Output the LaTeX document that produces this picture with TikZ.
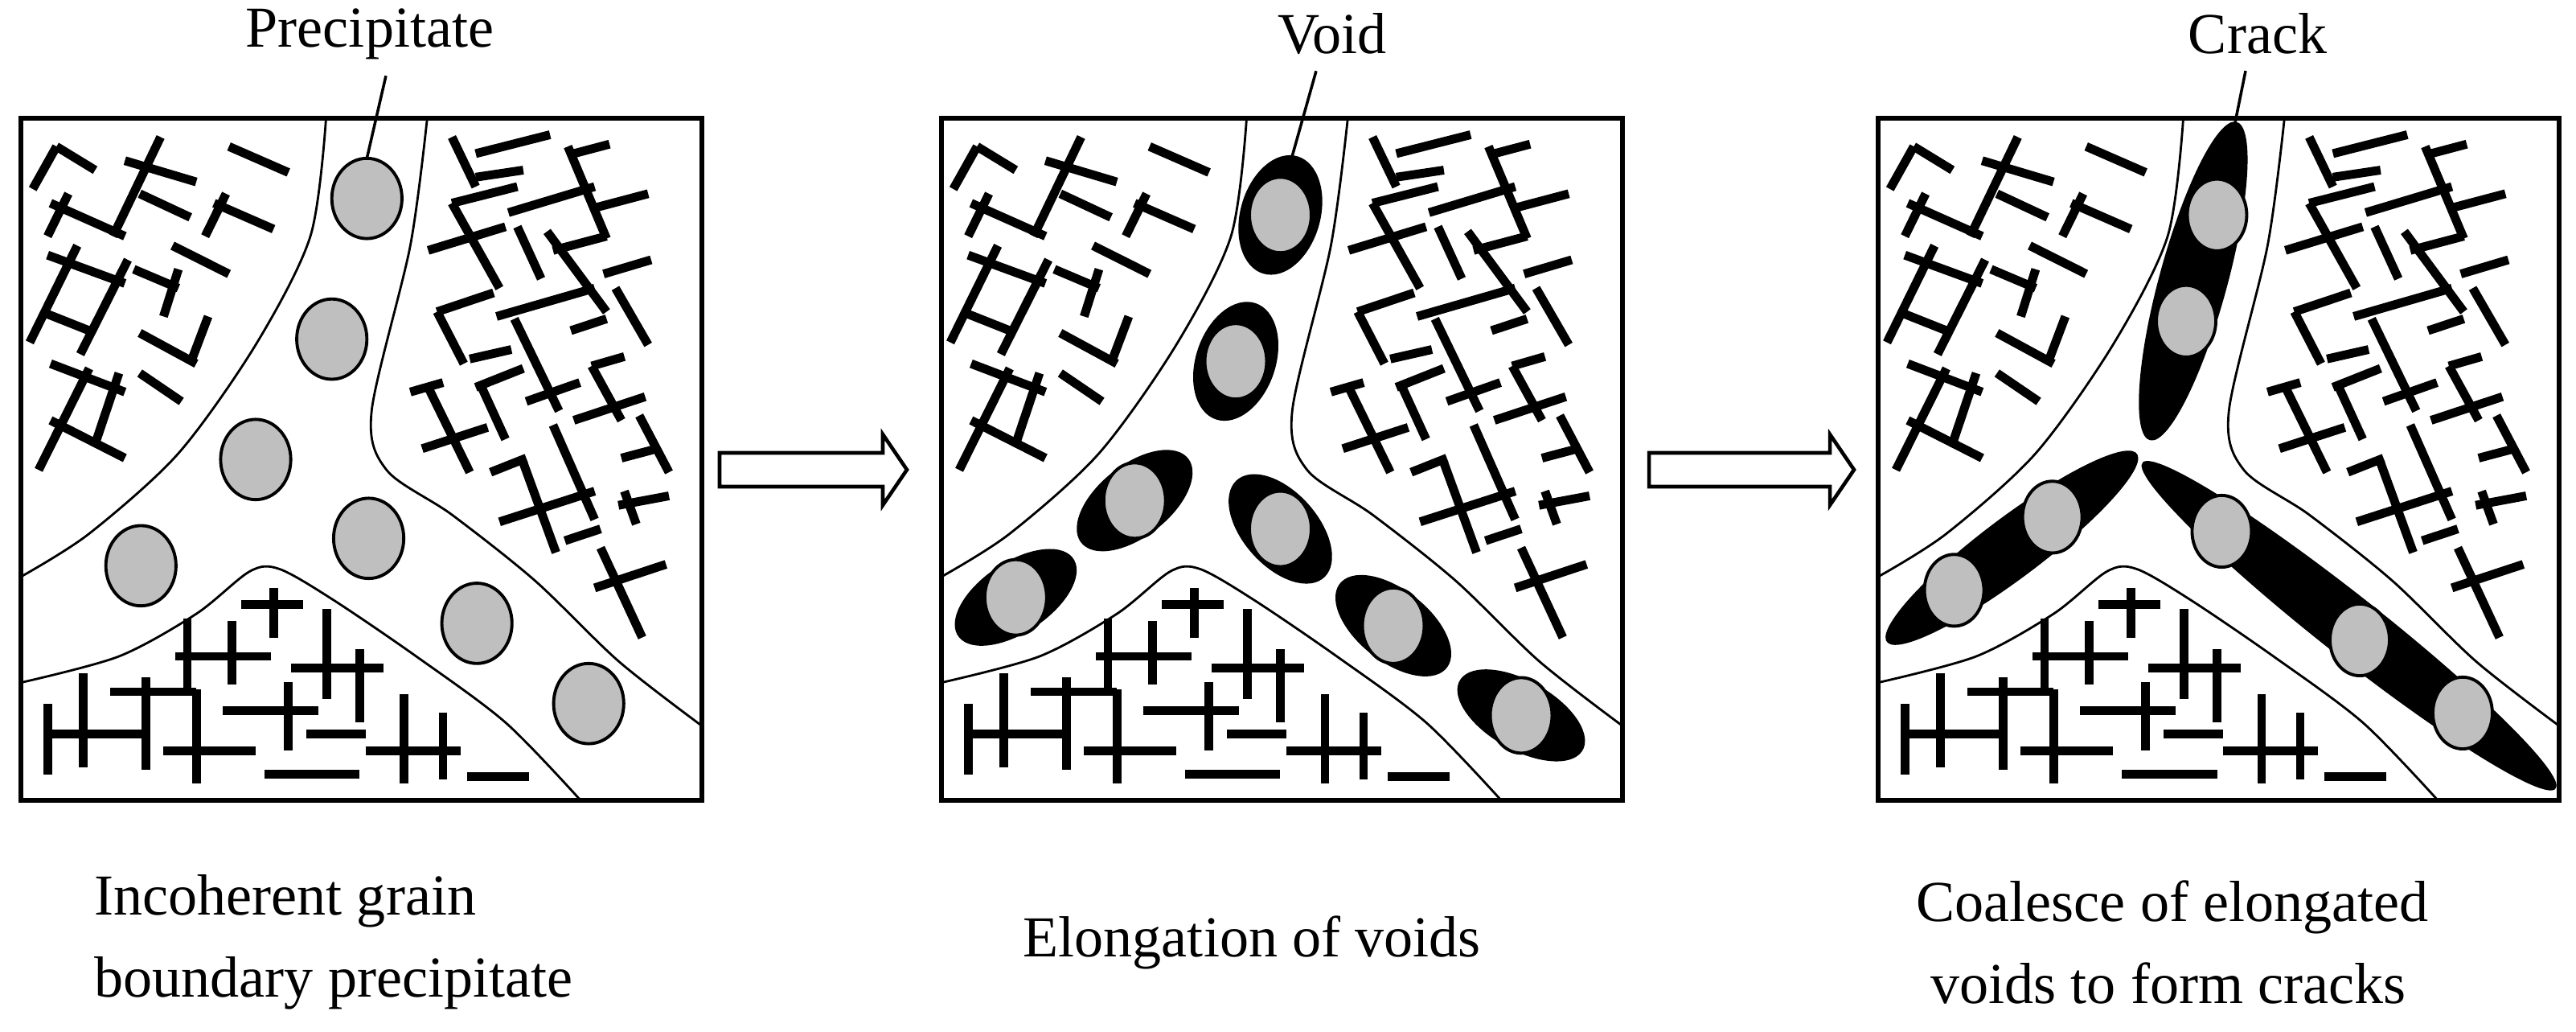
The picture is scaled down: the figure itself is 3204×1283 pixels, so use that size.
\documentclass[tikz,border=0pt]{standalone}
\usepackage{fontspec}
\setmainfont{Liberation Serif}
\tikzset{
  disl/.style={line width=3.1pt},
  gb/.style={line width=0.8pt},
  frame/.style={line width=1.7pt},
  prec/.style={fill=black!25, draw=black, line width=1.1pt},
  void/.style={fill=black},
  blockarrow/.style={draw=black, line width=1.3pt, fill=white},
  lab/.style={font=\fontsize{20.5}{29}\selectfont, inner sep=0pt, align=left}
}
% grains, boundaries and dislocations of one panel (panel coordinates)
\newcommand\grainpanel{%
\draw[frame] (35,80) rectangle (1180,1525);
\draw[gb] plot[smooth] coordinates {(548,85) (522,330) (430,560) (300,790) (150,960) (37,1050)};
\draw[gb] plot[smooth] coordinates {(718,85) (690,350) (625,700) (650,825) (760,920) (900,1060) (1040,1230) (1178,1365)};
\draw[gb] plot[smooth] coordinates {(37,1275) (200,1220) (330,1130) (420,1040) (470,1035) (560,1100) (700,1220) (850,1360) (975,1523)};
\foreach \xa/\ya/\xb/\yb in {95/140/160/190, 95/140/55/230, 270/120/190/330, 210/170/330/215,
  385/140/485/195, 235/240/320/290, 115/240/80/330, 85/260/210/330, 380/240/345/330,
  360/260/460/315, 130/350/50/555, 80/370/210/430, 215/380/135/580, 290/350/385/410,
  225/400/300/440, 300/400/275/500, 70/490/150/530, 350/500/320/600, 235/535/330/600,
  150/610/65/825, 85/600/210/660, 235/620/305/680, 200/620/160/770, 85/720/210/800}
  \draw[disl] (\xa,\ya) -- (\xb,\yb);
\foreach \xa/\ya/\xb/\yb in {760/120/800/225, 800/155/925/115, 800/205/880/190, 955/140/1020/335,
  965/155/1025/135, 855/280/1000/225, 1000/270/1090/240, 760/260/840/440, 760/260/870/225,
  720/360/850/310, 870/310/910/420, 920/320/1020/490, 930/360/1020/330, 1015/410/1095/380,
  735/490/780/600, 735/490/830/450, 835/500/1000/440, 1035/440/1090/560, 960/530/1020/505,
  865/505/940/700, 790/590/860/570, 800/650/880/610, 810/650/850/760, 995/605/1045/720,
  995/605/1050/585, 690/660/745/640, 720/650/790/830, 710/780/820/735, 885/680/975/640,
  965/720/1085/670, 930/730/1000/930, 1075/710/1125/830, 1045/800/1105/780, 825/830/885/800,
  880/810/935/1000, 840/935/1000/870, 950/975/1010/950, 1010/990/1080/1180, 1000/1075/1120/1025,
  1040/900/1125/880, 1050/870/1070/940}
  \draw[disl] (\xa,\ya) -- (\xb,\yb);
\foreach \xa/\ya/\xb/\yb in {460/1075/460/1180, 405/1110/510/1110, 315/1140/315/1300, 295/1220/455/1220,
  390/1145/390/1280, 550/1120/550/1310, 490/1245/645/1245, 605/1205/605/1360, 185/1295/330/1295,
  245/1265/245/1460, 140/1255/140/1455, 80/1320/80/1470, 80/1385/240/1385, 375/1335/535/1335,
  485/1275/485/1420, 330/1290/330/1490, 275/1420/430/1420, 515/1385/615/1385, 445/1470/605/1470,
  680/1300/680/1490, 615/1420/775/1420, 745/1340/745/1480, 785/1475/890/1475}
  \draw[disl] (\xa,\ya) -- (\xb,\yb);
}

\begin{document}
\begin{tikzpicture}[x=0.01cm, y=-0.01cm]
\useasboundingbox (0,0) rectangle (3204,1283);

% panel 1: precipitates on the boundaries
\begin{scope}[shift={(0,100)}, xscale=0.7396, yscale=0.5869]
\grainpanel
\foreach \px/\py in {617/250, 558/548, 430/803, 237/1028, 620/970, 802/1150, 990/1320}
  \draw[prec] (\px,\py) ellipse [x radius=59, y radius=85];
\coordinate (tip1) at (617,165);
\end{scope}

% panel 2: voids round the precipitates
\begin{scope}[shift={(1145,100)}, xscale=0.7396, yscale=0.5869]
\grainpanel
\foreach \px/\py/\ang in {605/285/80, 530/595/78, 360/890/50, 160/1095/45, 605/950/-60, 795/1155/-50, 1010/1345/-40}{
  \fill[void, rotate around={\ang:(\px,\py)}] (\px,\py) ellipse [x radius=128, y radius=68];
  \draw[prec] (\px,\py) ellipse [x radius=52, y radius=80];
}
\coordinate (tip2) at (625,160);
\end{scope}

% panel 3: voids joined into cracks
\begin{scope}[shift={(2310,100)}, xscale=0.7396, yscale=0.5869]
\grainpanel
\fill[void, rotate around={78:(565,425)}] (565,425) ellipse [x radius=345, y radius=58];
\fill[void, rotate around={44:(260,990)}] (260,990) ellipse [x radius=290, y radius=58];
\fill[void, rotate around={-45:(827,1155)}] (827,1155) ellipse [x radius=490, y radius=58];
\foreach \px/\py in {605/285, 553/510, 163/1080, 328/925, 613/955, 845/1185, 1018/1340}
  \draw[prec] (\px,\py) ellipse [x radius=50, y radius=76];
\coordinate (tip3) at (635,92);
\end{scope}

% arrows
\draw[blockarrow] (895,563) -- (1098,563) -- (1098,540) -- (1128,584) -- (1098,628) -- (1098,605) -- (895,605) -- cycle;
\draw[blockarrow] (2051,563) -- (2276,563) -- (2276,540) -- (2306,584) -- (2276,628) -- (2276,605) -- (2051,605) -- cycle;

% labels
\node[lab] (precip) at (460,42) {Precipitate};
\node[lab] (void) at (1657,42) {Void};
\node[lab] (crack) at (2808,42) {Crack};
\draw[gb, line width=1pt] (precip.south) ++(0.2cm,-0.2cm) coordinate (lp) (lp) -- (tip1);
\draw[gb, line width=1pt] (void.south) ++(-0.2cm,-0.2cm) coordinate (lv) (lv) -- (tip2);
\draw[gb, line width=1pt] (crack.south) ++(-0.15cm,-0.2cm) coordinate (lc) (lc) -- (tip3);

\node[lab, anchor=west] (cap1) at (117,1171) {Incoherent grain\\boundary precipitate};
\node[lab, anchor=west] (cap2) at (1272,1172) {Elongation of voids};
\node[lab, anchor=west] (cap3) at (2383,1171) {Coalesce of elongated\\\ voids to form cracks};
\end{tikzpicture}
\end{document}
